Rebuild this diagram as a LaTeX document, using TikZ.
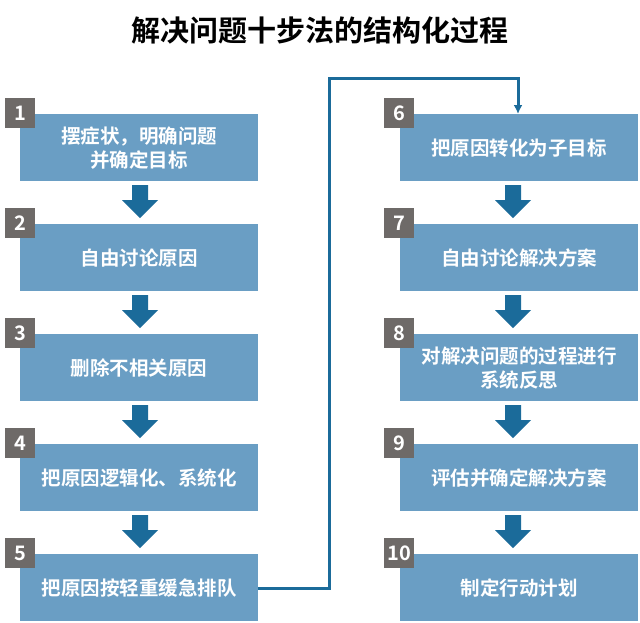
\documentclass[tikz,border=0pt]{standalone}
\usepackage{fontspec}
\usetikzlibrary{arrows.meta}
\setmainfont{Noto Sans CJK SC}[BoldFont={* Bold}]
\begin{document}
\begin{tikzpicture}[x=1pt,y=-1pt,
  box/.style={fill=boxc,minimum width=238pt,minimum height=67pt,anchor=north west,inner sep=0pt,text=white,font=\fontsize{19.5}{24}\selectfont\bfseries,align=center},
  num/.style={fill=numc,minimum size=30pt,anchor=north west,inner sep=0pt,text=white,font=\fontsize{20}{20}\selectfont\bfseries},
  darr/.style={fill=arrc,draw=none}]
\definecolor{boxc}{HTML}{6A9EC4}
\definecolor{numc}{HTML}{6E6A68}
\definecolor{arrc}{HTML}{1B6B9A}
\useasboundingbox (0,0) rectangle (640,622);
\node[font=\fontsize{29}{32}\selectfont\bfseries] (title) at (320,30) {解决问题十步法的结构化过程};
\def\arrowat#1#2{\fill[arrc] (#1-8,#2) -- (#1+8,#2) -- (#1+8,#2+15) -- (#1+18,#2+15) -- (#1,#2+33) -- (#1-18,#2+15) -- (#1-8,#2+15) -- cycle;}
\foreach \i/\t in {1/{摆症状，明确问题\\并确定目标},2/自由讨论原因,3/删除不相关原因,4/{把原因逻辑化、系统化},5/把原因按轻重缓急排队}{
  \pgfmathsetmacro\yy{114+110*(\i-1)}
  \node[box] (L\i) at (20,\yy) {\t};
  \node[num] (n\i) at (5,\yy-16) {\i};
}
\foreach \i/\t in {6/把原因转化为子目标,7/自由讨论解决方案,8/{对解决问题的过程进行\\系统反思},9/评估并确定解决方案,10/制定行动计划}{
  \pgfmathsetmacro\yy{114+110*(\i-6)}
  \node[box] (R\i) at (400,\yy) {\t};
  \node[num] (n\i) at (384,\yy-16) {\i};
}
\foreach \k in {0,1,2,3}{
  \pgfmathsetmacro\ya{185+110*\k}
  \arrowat{140}{\ya}
  \arrowat{513}{\ya}
}
\coordinate (c1) at (329,588);
\coordinate (c2) at (329,78);
\coordinate (c3) at (518,78);
\draw[draw=arrc,line width=3pt,-{Latex[length=9pt,width=9pt]}] (L5.east|-c1) -- (c1) -- (c2) -- (c3) -- (c3|-R6.north);
\end{tikzpicture}
\end{document}
